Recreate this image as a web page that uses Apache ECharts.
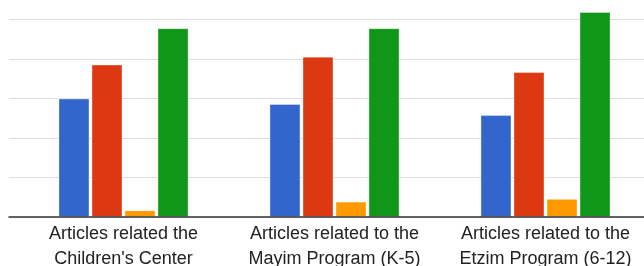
<!DOCTYPE html>
<html>
<head>
<meta charset="utf-8">
<script src="https://cdn.jsdelivr.net/npm/echarts@6/dist/echarts.min.js"></script>
<style>
html,body{margin:0;padding:0;background:#fff;}
#c{width:644px;height:266px;}
</style>
</head>
<body>
<div id="c"></div>
<script>
var categories = ["Articles related the\nChildren's Center", "Articles related to the\nMayim Program (K-5)", "Articles related to the\nEtzim Program (6-12)"];
var seriesBlue = [30.0, 28.6, 25.8];
var seriesRed = [38.6, 40.6, 36.7];
var seriesOrange = [1.7, 3.9, 4.6];
var seriesGreen = [47.8, 47.8, 51.9];
var colors = ['#3366cc', '#dc3912', '#ff9900', '#109618'];

var chart = echarts.init(document.getElementById('c'), null, {renderer: 'canvas'});
function bar(data, i) {
  return {
    type: 'bar', xAxisIndex: 1, yAxisIndex: 1,
    data: data, barWidth: 31, barGap: '6.5%',
    itemStyle: {color: colors[i], borderColor: 'rgba(255,255,255,0.35)', borderWidth: 1},
    silent: true
  };
}
chart.setOption({
  animation: false,
  grid: [
    {left: 9, right: 0, top: -20, bottom: 49, containLabel: false, outerBoundsMode: 'none'},
    {left: 18, right: -7, top: -20, bottom: 49, containLabel: false, outerBoundsMode: 'none'}
  ],
  xAxis: [
    {type: 'value', gridIndex: 0, min: 0, max: 1, axisLine: {show: true, onZero: true, lineStyle: {color: '#333', width: 1.5}}, axisTick: {show: false}, axisLabel: {show: false}, splitLine: {show: false}, z: 10},
    {type: 'category', gridIndex: 1, data: categories, axisLine: {show: false}, axisTick: {show: false},
     axisLabel: {show: true, interval: 0, margin: 5, color: '#222', fontFamily: 'Liberation Sans, Arial, sans-serif', fontSize: 18, lineHeight: 25}}
  ],
  yAxis: [
    {type: 'value', gridIndex: 0, min: 0, max: 60, interval: 10, axisLine: {show: false}, axisTick: {show: false}, axisLabel: {show: false}, splitLine: {show: true, lineStyle: {color: '#dedede', width: 1}}},
    {type: 'value', gridIndex: 1, min: 0, max: 60, interval: 10, show: false, splitLine: {show: false}}
  ],
  series: [bar(seriesBlue, 0), bar(seriesRed, 1), bar(seriesOrange, 2), bar(seriesGreen, 3)]
});
</script>
</body>
</html>
